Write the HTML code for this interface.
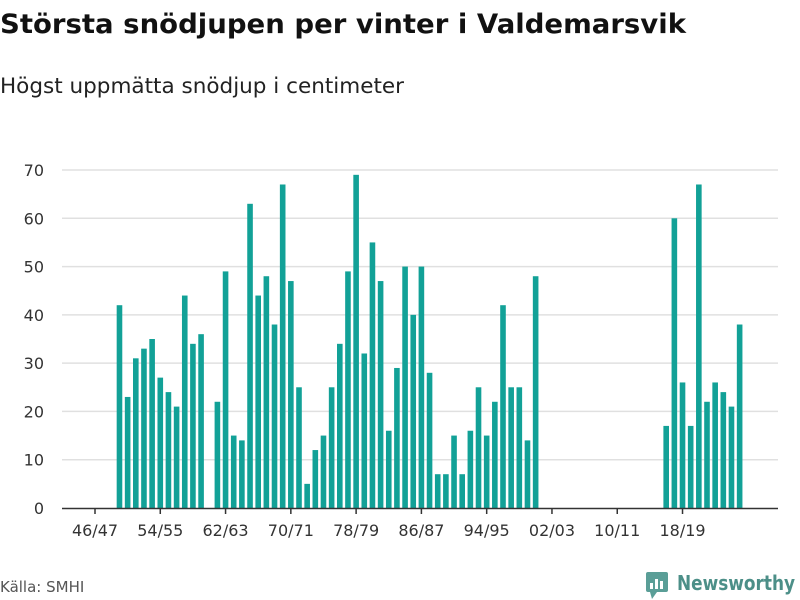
<!DOCTYPE html>
<html><head><meta charset="utf-8"><style>
body{margin:0;background:#fff;width:800px;height:600px;overflow:hidden;font-family:"DejaVu Sans","Liberation Sans",sans-serif;}
svg{position:absolute;left:0;top:0}
</style></head><body>
<svg id="c" width="800" height="600">
<text x="0" y="33" font-size="27" font-weight="bold" fill="#111" textLength="686" lengthAdjust="spacingAndGlyphs">Största snödjupen per vinter i Valdemarsvik</text>
<text x="0" y="93" font-size="21" fill="#222" textLength="404" lengthAdjust="spacingAndGlyphs">Högst uppmätta snödjup i centimeter</text>
<text x="0" y="592" font-size="15" fill="#555">Källa: SMHI</text>
<g>
<rect x="646" y="572" width="22" height="20" rx="2" fill="#5a9e97"/>
<polygon points="650,592 657,592 652,599" fill="#5a9e97"/>
<rect x="650" y="583" width="3" height="6" fill="#fff"/><rect x="655" y="579" width="3" height="10" fill="#fff"/><rect x="660" y="581" width="3" height="8" fill="#fff"/>
<text x="677" y="590" font-size="20" font-weight="bold" fill="#4c8f88" textLength="118" lengthAdjust="spacingAndGlyphs">Newsworthy</text>
</g>
<g id="grid"></g><g id="bars"></g><g id="axis"></g>
</svg>
<script>
const startYear = 1946;
const values = [null,null,null,42,23,31,33,35,27,24,21,44,34,36,null,22,49,15,14,63,44,48,38,67,47,25,5,12,15,25,34,49,69,32,55,47,16,29,50,40,50,28,7,7,15,7,16,25,15,22,42,25,25,14,48,null,null,null,null,null,null,null,null,null,null,null,null,null,null,null,17,60,26,17,67,22,26,24,21,38];
const yTicks = [0,10,20,30,40,50,60,70];
const xTickIdx = [0,8,16,24,32,40,48,56,64,72];
const NS="http://www.w3.org/2000/svg";
function x(i){return 95+i*8.16;}
function y(v){return 508-v*(338/70);}
function lab(i){const a=(startYear+i)%100,b=(startYear+i+1)%100;return String(a).padStart(2,'0')+'/'+String(b).padStart(2,'0');}
function mk(t,a,p){const e=document.createElementNS(NS,t);for(const k in a)e.setAttribute(k,a[k]);p.appendChild(e);return e;}
const g=document.getElementById('grid'),b=document.getElementById('bars'),ax=document.getElementById('axis');
yTicks.forEach(v=>{
 if(v>0){const l=mk('line',{x1:62,x2:778,y1:y(v),y2:y(v),stroke:'#e0e0e0','stroke-width':1.5},g);
 
 }
 const t=mk('text',{x:44,y:y(v)+6,'font-size':16,fill:'#333','text-anchor':'end'},ax);t.textContent=v;
 
 
});
values.forEach((v,i)=>{
 if(v==null)return;
 const r=mk('rect',{x:x(i)-2.8,y:y(v),width:5.6,height:y(0)-y(v),fill:'#12a197'},b);
 
 
});
const al=mk('line',{x1:62,x2:778,y1:508.5,y2:508.5,stroke:'#333','stroke-width':1.5},ax);


xTickIdx.forEach(i=>{
 mk('line',{x1:x(i),x2:x(i),y1:509,y2:514,stroke:'#333','stroke-width':1.5},ax);
 const t=mk('text',{x:x(i),y:536,'font-size':16,fill:'#333','text-anchor':'middle'},ax);t.textContent=lab(i);
 
 
});
</script>
</body></html>
